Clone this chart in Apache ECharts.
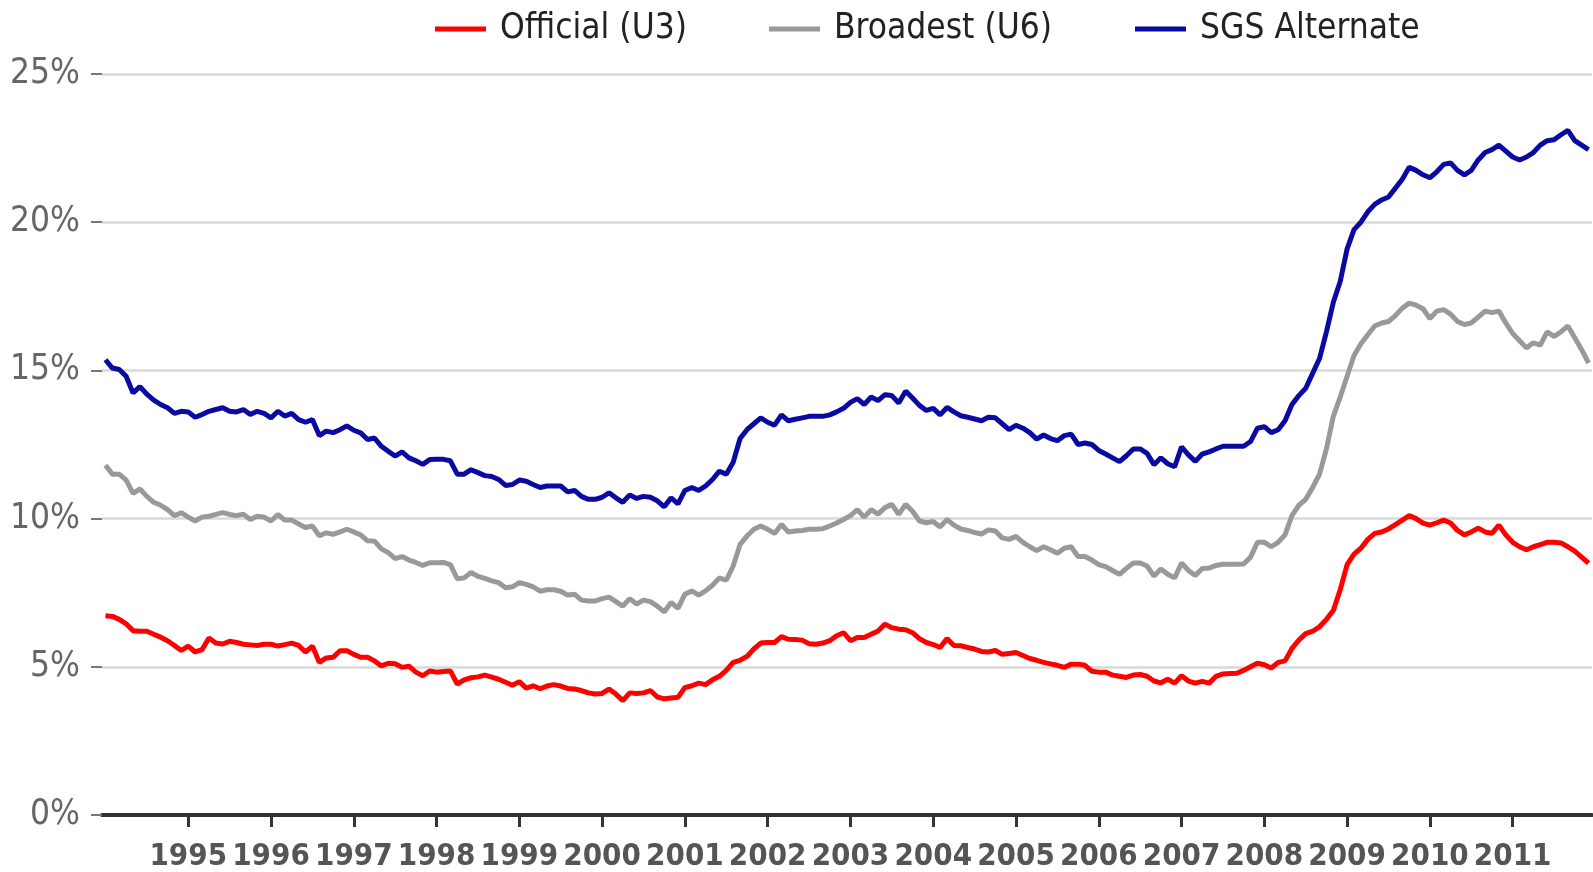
<!DOCTYPE html>
<html><head><meta charset="utf-8">
<script src="https://cdn.jsdelivr.net/npm/echarts@6/dist/echarts.min.js"></script>
<style>html,body{margin:0;padding:0;background:#fff;}#c{width:1593px;height:872px;}</style>
</head><body><div id="c"></div>
<script>
const years = [1994,1995,1996,1997,1998,1999,2000,2001,2002,2003,2004,2005,2006,2007,2008,2009,2010,2011];
const monthNames = ['01','02','03','04','05','06','07','08','09','10','11','12'];
const yTicks = [0,5,10,15,20,25];
const seriesNames = ['Official (U3)','Broadest (U6)','SGS Alternate'];

const official = [
 6.72,6.70,6.60,6.45,6.22,6.20,6.20,6.10,6.00,5.88,5.72,5.55,
 5.70,5.50,5.58,5.97,5.80,5.77,5.86,5.82,5.76,5.74,5.72,5.76,
 5.76,5.70,5.75,5.80,5.72,5.50,5.70,5.15,5.30,5.32,5.54,5.54,
 5.42,5.32,5.32,5.20,5.03,5.12,5.10,4.98,5.02,4.82,4.70,4.86,
 4.82,4.84,4.86,4.42,4.56,4.63,4.66,4.72,4.65,4.58,4.48,4.38,
 4.50,4.28,4.36,4.26,4.35,4.40,4.35,4.27,4.25,4.20,4.12,4.08,
 4.10,4.25,4.08,3.86,4.12,4.10,4.12,4.20,3.98,3.92,3.95,3.97,
 4.30,4.36,4.45,4.40,4.56,4.68,4.88,5.15,5.22,5.35,5.60,5.80,
 5.82,5.82,6.02,5.93,5.92,5.90,5.78,5.76,5.80,5.88,6.05,6.15,
 5.88,5.99,5.99,6.10,6.21,6.44,6.32,6.27,6.25,6.15,5.95,5.82,
 5.75,5.65,5.95,5.72,5.71,5.65,5.60,5.52,5.50,5.55,5.42,5.45,
 5.48,5.38,5.28,5.22,5.15,5.10,5.05,4.98,5.09,5.09,5.05,4.85,
 4.82,4.82,4.72,4.68,4.64,4.72,4.74,4.68,4.52,4.46,4.58,4.45,
 4.70,4.52,4.45,4.51,4.45,4.68,4.76,4.77,4.78,4.88,5.00,5.12,
 5.07,4.96,5.15,5.20,5.62,5.90,6.12,6.20,6.35,6.60,6.90,7.60,
 8.45,8.80,9.00,9.30,9.50,9.55,9.65,9.80,9.95,10.10,10.00,9.85,
 9.78,9.86,9.95,9.85,9.60,9.45,9.55,9.68,9.55,9.50,9.78,9.45,
 9.20,9.05,8.95,9.05,9.12,9.20,9.20,9.18,9.05,8.90,8.70,8.50
];
const broadest = [
 11.80,11.50,11.50,11.30,10.85,11.00,10.75,10.55,10.45,10.30,10.10,10.20,
 10.05,9.92,10.05,10.08,10.14,10.20,10.14,10.10,10.15,9.97,10.08,10.05,
 9.92,10.14,9.95,9.95,9.82,9.70,9.75,9.42,9.52,9.47,9.55,9.64,
 9.55,9.45,9.25,9.24,8.98,8.85,8.65,8.72,8.60,8.52,8.42,8.51,
 8.51,8.52,8.45,7.97,8.00,8.18,8.05,7.98,7.90,7.84,7.67,7.70,
 7.84,7.78,7.70,7.55,7.60,7.60,7.55,7.42,7.45,7.25,7.22,7.22,
 7.30,7.35,7.20,7.05,7.30,7.12,7.25,7.20,7.05,6.85,7.17,6.97,
 7.45,7.56,7.42,7.56,7.75,8.00,7.92,8.40,9.13,9.41,9.64,9.75,
 9.64,9.50,9.80,9.55,9.58,9.60,9.64,9.64,9.66,9.75,9.85,9.97,
 10.10,10.30,10.05,10.30,10.15,10.37,10.48,10.14,10.48,10.25,9.92,9.86,
 9.90,9.72,9.97,9.78,9.65,9.60,9.53,9.48,9.62,9.58,9.35,9.30,
 9.40,9.20,9.05,8.92,9.05,8.95,8.83,9.00,9.05,8.72,8.72,8.60,
 8.45,8.38,8.25,8.12,8.32,8.50,8.50,8.40,8.06,8.30,8.12,8.00,
 8.50,8.25,8.08,8.32,8.33,8.42,8.46,8.46,8.46,8.47,8.70,9.20,
 9.20,9.05,9.20,9.45,10.10,10.45,10.65,11.05,11.50,12.35,13.45,14.10,
 14.80,15.50,15.90,16.20,16.50,16.60,16.65,16.85,17.10,17.27,17.20,17.08,
 16.75,17.00,17.05,16.90,16.65,16.55,16.60,16.80,17.00,16.95,17.00,16.60,
 16.25,16.00,15.76,15.93,15.85,16.30,16.15,16.30,16.50,16.10,15.70,15.25
];
const sgsAlternate = [
 15.36,15.08,15.03,14.80,14.24,14.45,14.20,14.00,13.85,13.74,13.55,13.62,
 13.60,13.42,13.51,13.62,13.68,13.74,13.62,13.60,13.68,13.51,13.62,13.55,
 13.40,13.62,13.46,13.55,13.34,13.25,13.34,12.80,12.95,12.90,13.00,13.13,
 12.98,12.89,12.67,12.72,12.44,12.27,12.11,12.25,12.05,11.95,11.83,11.99,
 12.00,12.00,11.95,11.50,11.50,11.65,11.55,11.45,11.42,11.32,11.12,11.15,
 11.30,11.26,11.15,11.05,11.10,11.10,11.10,10.90,10.95,10.75,10.65,10.65,
 10.72,10.87,10.70,10.55,10.80,10.68,10.75,10.72,10.60,10.40,10.70,10.50,
 10.95,11.05,10.95,11.10,11.32,11.60,11.50,11.90,12.70,13.00,13.20,13.40,
 13.25,13.15,13.50,13.30,13.35,13.40,13.45,13.45,13.45,13.50,13.60,13.72,
 13.92,14.05,13.85,14.10,13.98,14.18,14.15,13.90,14.30,14.07,13.82,13.65,
 13.72,13.50,13.75,13.60,13.47,13.42,13.36,13.30,13.42,13.40,13.20,13.00,
 13.15,13.05,12.90,12.68,12.82,12.70,12.63,12.80,12.85,12.50,12.55,12.50,
 12.30,12.18,12.05,11.92,12.12,12.35,12.35,12.20,11.82,12.05,11.85,11.75,
 12.42,12.15,11.93,12.18,12.25,12.35,12.44,12.44,12.44,12.44,12.60,13.05,
 13.10,12.90,13.00,13.30,13.85,14.15,14.40,14.90,15.40,16.30,17.30,18.00,
 19.10,19.75,20.00,20.35,20.60,20.75,20.85,21.15,21.45,21.85,21.75,21.60,
 21.50,21.70,21.95,22.00,21.75,21.60,21.75,22.10,22.35,22.45,22.60,22.40,
 22.20,22.10,22.20,22.35,22.60,22.75,22.78,22.95,23.10,22.75,22.60,22.45
];

const categories = [];
years.forEach(y => monthNames.forEach(m => categories.push(y + '-' + m)));

const cond = "'DejaVu Sans Condensed','DejaVu Sans',sans-serif";
const isYearTick = (idx) => idx > 0 && idx % 12 === 0;

const chart = echarts.init(document.getElementById('c'), null, {renderer: 'canvas'});
const colors = ['#ff0000', '#999999', '#0a0aa2'];
const legendLefts = [435, 769, 1135];

chart.setOption({
  animation: false,
  backgroundColor: '#ffffff',
  grid: {left: 102, right: 1, top: 74, bottom: 56, containLabel: false},
  legend: seriesNames.map((n, i) => ({
    data: [n], left: legendLefts[i], top: 11, padding: 0, icon: 'rect',
    itemWidth: 51, itemHeight: 5, selectedMode: false,
    textStyle: {fontFamily: cond, fontSize: 35, lineHeight: 36, color: '#222', padding: [0, 0, 0, 9]}
  })),
  xAxis: {
    type: 'category', data: categories, boundaryGap: true,
    axisLine: {show: true, lineStyle: {color: '#333', width: 4}},
    axisTick: {show: true, alignWithLabel: true, interval: isYearTick, length: 12, lineStyle: {color: '#333', width: 3}},
    axisLabel: {interval: isYearTick, formatter: v => v.slice(0, 4), margin: 26,
      fontFamily: cond, fontSize: 31, lineHeight: 31, fontWeight: 'bold', color: '#555'},
    splitLine: {show: false}
  },
  yAxis: {
    type: 'value', min: yTicks[0], max: yTicks[yTicks.length - 1], interval: 5,
    axisLine: {show: false},
    axisTick: {show: true, length: 11, lineStyle: {color: '#777', width: 2}},
    axisLabel: {formatter: '{value}%', margin: 22, fontFamily: cond, fontSize: 35, color: '#666'},
    splitLine: {show: true, lineStyle: {color: '#d9d9d9', width: 2.5}}
  },
  series: [official, broadest, sgsAlternate].map((d, i) => ({
    name: seriesNames[i], type: 'line', data: d, showSymbol: false, symbol: 'none',
    color: colors[i], lineStyle: {color: colors[i], width: 5}, z: 3
  }))
});
</script>
</body></html>
